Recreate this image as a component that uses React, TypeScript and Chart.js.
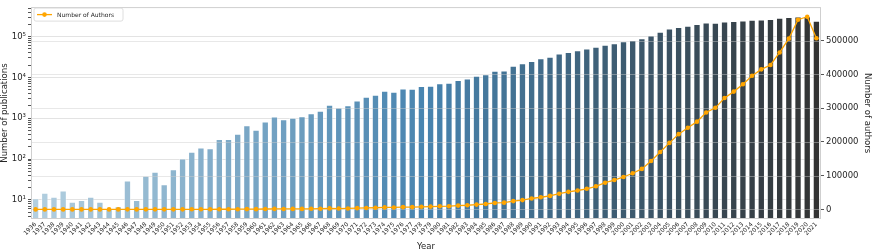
import React, { useEffect, useRef } from 'react';
import { Chart, registerables } from 'chart.js';

Chart.register(...registerables);

const years: string[] = [
  '1936', '1937', '1938', '1939', '1940', '1941', '1942', '1943', '1944', '1945',
  '1946', '1947', '1948', '1949', '1950', '1951', '1952', '1953', '1954', '1955',
  '1956', '1957', '1958', '1959', '1960', '1961', '1962', '1963', '1964', '1965',
  '1966', '1967', '1968', '1969', '1970', '1971', '1972', '1973', '1974', '1975',
  '1976', '1977', '1978', '1979', '1980', '1981', '1982', '1983', '1984', '1985',
  '1986', '1987', '1988', '1989', '1990', '1991', '1992', '1993', '1994', '1995',
  '1996', '1997', '1998', '1999', '2000', '2001', '2002', '2003', '2004', '2005',
  '2006', '2007', '2008', '2009', '2010', '2011', '2012', '2013', '2014', '2015',
  '2016', '2017', '2018', '2019', '2020', '2021',
];

const publications: number[] = [
  11, 15, 12, 17, 9, 10, 12, 9, 6, 7,
  30, 10, 39, 49, 24, 56, 104, 152, 193, 183,
  310, 310, 415, 670, 525, 830, 1100, 950, 1030, 1120,
  1320, 1520, 2150, 1830, 2075, 2730, 3390, 3780, 4700, 4450,
  5360, 5300, 6200, 6300, 7200, 7470, 8630, 9460, 10960, 12000,
  14700, 14900, 19300, 22300, 25400, 29500, 32100, 38700, 42300, 46400,
  50900, 56700, 63000, 69300, 77400, 83000, 91000, 107000, 131000, 159000,
  173000, 186000, 203000, 222000, 218000, 236000, 241000, 250000, 259000, 264000,
  270000, 292000, 305000, 314000, 318000, 245000,
];

const authors: number[] = [
  14, 19, 15, 22, 12, 13, 15, 12, 8, 9,
  38, 13, 50, 62, 31, 72, 135, 195, 250, 240,
  400, 410, 540, 880, 690, 1090, 1450, 1260, 1370, 1500,
  1760, 2030, 2870, 2450, 2780, 3650, 4300, 4900, 5900, 5700,
  6700, 6700, 7700, 8300, 9200, 9500, 11200, 12300, 14200, 16000,
  19000, 20000, 24600, 27500, 32300, 36000, 40000, 46500, 52000, 56000,
  61000, 68500, 79000, 87000, 96000, 107000, 120000, 143500, 170000, 197000,
  223000, 242000, 260000, 287000, 301000, 330000, 349000, 371000, 396000, 415000,
  428000, 465000, 506000, 562000, 571000, 507000,
];

const leftTickLabels: Record<number, string> = { 1: '10¹', 2: '10²', 3: '10³', 4: '10⁴', 5: '10⁵' };
const rightTicks: number[] = [0, 100000, 200000, 300000, 400000, 500000];

const FONT = 'DejaVu Sans';
const TEXT = '#262626';

function hexToRgb(h: string): number[] {
  const n = parseInt(h.slice(1), 16);
  return [(n >> 16) & 255, (n >> 8) & 255, n & 255];
}
const stops = ['#b3cfdf', '#4884af', '#333333'].map(hexToRgb);
function barColor(i: number, n: number): string {
  const t = n > 1 ? i / (n - 1) : 0;
  const seg = t < 0.5 ? 0 : 1;
  const u = seg === 0 ? t / 0.5 : (t - 0.5) / 0.5;
  const a = stops[seg];
  const b = stops[seg + 1];
  const c = a.map((v, k) => Math.round(v + (b[k] - v) * u));
  return `rgb(${c[0]},${c[1]},${c[2]})`;
}

function isPow10(v: number): boolean {
  const e = Math.log10(v);
  return Math.abs(e - Math.round(e)) < 1e-7;
}
function isIntSignificand(v: number): boolean {
  const p = Math.pow(10, Math.floor(Math.log10(v) + 1e-9));
  const s = v / p;
  return Math.abs(s - Math.round(s)) < 1e-6;
}

const framePlugin = {
  id: 'frameAndLegend',
  beforeDatasetDraw(chart: any, args: any) {
    if (args.index !== 1) return;
    const { ctx, chartArea } = chart;
    const s = chart.scales.y1;
    ctx.save();
    ctx.strokeStyle = 'rgba(204,204,204,0.45)';
    ctx.lineWidth = 1;
    s.ticks.forEach((t: any) => {
      const y = Math.round(s.getPixelForValue(t.value)) + 0.5;
      ctx.beginPath();
      ctx.moveTo(chartArea.left, y);
      ctx.lineTo(chartArea.right, y);
      ctx.stroke();
    });
    ctx.restore();
  },
  afterDraw(chart: any) {
    const { ctx, chartArea } = chart;
    ctx.save();
    ctx.strokeStyle = '#cfcfcf';
    ctx.lineWidth = 1;
    ctx.strokeRect(chartArea.left + 0.5, chartArea.top + 0.5, chartArea.right - chartArea.left - 1, chartArea.bottom - chartArea.top - 1);
    // legend
    const x = chartArea.left + 3;
    const y = chartArea.top + 1;
    const w = 89;
    const h = 13;
    ctx.beginPath();
    const r = 2;
    ctx.moveTo(x + r, y);
    ctx.lineTo(x + w - r, y);
    ctx.quadraticCurveTo(x + w, y, x + w, y + r);
    ctx.lineTo(x + w, y + h - r);
    ctx.quadraticCurveTo(x + w, y + h, x + w - r, y + h);
    ctx.lineTo(x + r, y + h);
    ctx.quadraticCurveTo(x, y + h, x, y + h - r);
    ctx.lineTo(x, y + r);
    ctx.quadraticCurveTo(x, y, x + r, y);
    ctx.closePath();
    ctx.fillStyle = 'rgba(255,255,255,0.85)';
    ctx.fill();
    ctx.strokeStyle = '#d6d6d6';
    ctx.lineWidth = 0.8;
    ctx.stroke();
    const ly = y + h / 2;
    ctx.strokeStyle = '#ffa500';
    ctx.lineWidth = 1.3;
    ctx.beginPath();
    ctx.moveTo(x + 3, ly);
    ctx.lineTo(x + 18, ly);
    ctx.stroke();
    ctx.fillStyle = '#ffa500';
    ctx.beginPath();
    ctx.arc(x + 10.5, ly, 2.3, 0, Math.PI * 2);
    ctx.fill();
    ctx.fillStyle = TEXT;
    ctx.font = `6px "${FONT}"`;
    ctx.textBaseline = 'middle';
    ctx.textAlign = 'left';
    ctx.fillText('Number of Authors', x + 23, ly + 0.5);
    ctx.restore();
  },
};

export default function App() {
  const ref = useRef<HTMLCanvasElement | null>(null);

  useEffect(() => {
    if (!ref.current) return;
    const colors = publications.map((_, i) => barColor(i, publications.length));
    const chart = new Chart(ref.current, {
      type: 'bar',
      data: {
        labels: years,
        datasets: [
          {
            type: 'bar',
            label: 'Number of publications',
            data: publications,
            backgroundColor: colors,
            borderColor: 'rgba(255,255,255,0.45)',
            borderWidth: 1,
            barPercentage: 0.8,
            categoryPercentage: 1,
            yAxisID: 'y',
            order: 2,
          } as any,
          {
            type: 'line',
            label: 'Number of Authors',
            data: authors,
            borderColor: '#ffa500',
            backgroundColor: '#ffa500',
            borderWidth: 1.3,
            pointRadius: 2.3,
            pointBorderWidth: 0,
            pointBackgroundColor: '#ffa500',
            yAxisID: 'y1',
            order: 1,
          } as any,
        ],
      },
      options: {
        animation: false,
        responsive: false,
        devicePixelRatio: 1,
        layout: { padding: { top: 1, left: 0, right: 0, bottom: 0 } },
        plugins: {
          legend: { display: false },
          tooltip: { enabled: false },
        },
        scales: {
          x: {
            type: 'category',
            offset: true,
            afterFit: (s: any) => { s.height = 33; },
            grid: { display: false, drawTicks: false },
            border: { display: false },
            ticks: {
              autoSkip: false,
              minRotation: 45,
              maxRotation: 45,
              padding: 2,
              color: TEXT,
              font: { family: FONT, size: 6 },
            },
            title: {
              display: true,
              text: 'Year',
              color: TEXT,
              font: { family: FONT, size: 8.5 },
              padding: { top: 0, bottom: 0 },
            },
          },
          y: {
            type: 'logarithmic',
            position: 'left',
            min: 3.4,
            max: 530000,
            afterFit: (s: any) => { s.width = 31; },
            border: { display: false },
            grid: {
              color: (c: any) => (c.tick && isPow10(c.tick.value) ? '#e3e3e3' : 'rgba(0,0,0,0)'),
              tickColor: (c: any) => (c.tick && isIntSignificand(c.tick.value) ? '#555555' : 'rgba(0,0,0,0)'),
              tickLength: 3,
              lineWidth: 1,
            },
            ticks: {
              autoSkip: false,
              padding: 2,
              color: TEXT,
              font: { family: FONT, size: 8.5 },
              callback: (v: any) => {
                const n = Number(v);
                if (!isPow10(n)) return '';
                return leftTickLabels[Math.round(Math.log10(n))] ?? '';
              },
            },
            title: {
              display: true,
              text: 'Number of publications',
              color: TEXT,
              font: { family: FONT, size: 8.5 },
              padding: { top: 0, bottom: 0 },
            },
          },
          y1: {
            type: 'linear',
            position: 'right',
            min: -28500,
            max: 599500,
            afterFit: (s: any) => { s.width = 51; },
            afterBuildTicks: (s: any) => { s.ticks = rightTicks.map((v) => ({ value: v })); },
            border: { display: false },
            grid: { drawOnChartArea: false, tickLength: 3, tickColor: '#555555' },
            ticks: {
              padding: 2,
              color: TEXT,
              font: { family: FONT, size: 8.5 },
              callback: (v: any) => String(v),
            },
            title: {
              display: true,
              text: 'Number of authors',
              color: TEXT,
              font: { family: FONT, size: 8.5 },
              padding: { top: 0, bottom: 0 },
            },
          },
        },
      } as any,
      plugins: [framePlugin],
    });
    return () => chart.destroy();
  }, []);

  return (
    <div style={{ position: 'absolute', left: 0, top: 0, width: 872, height: 252, background: '#fff' }}>
      <canvas ref={ref} width={872} height={252} />
    </div>
  );
}
